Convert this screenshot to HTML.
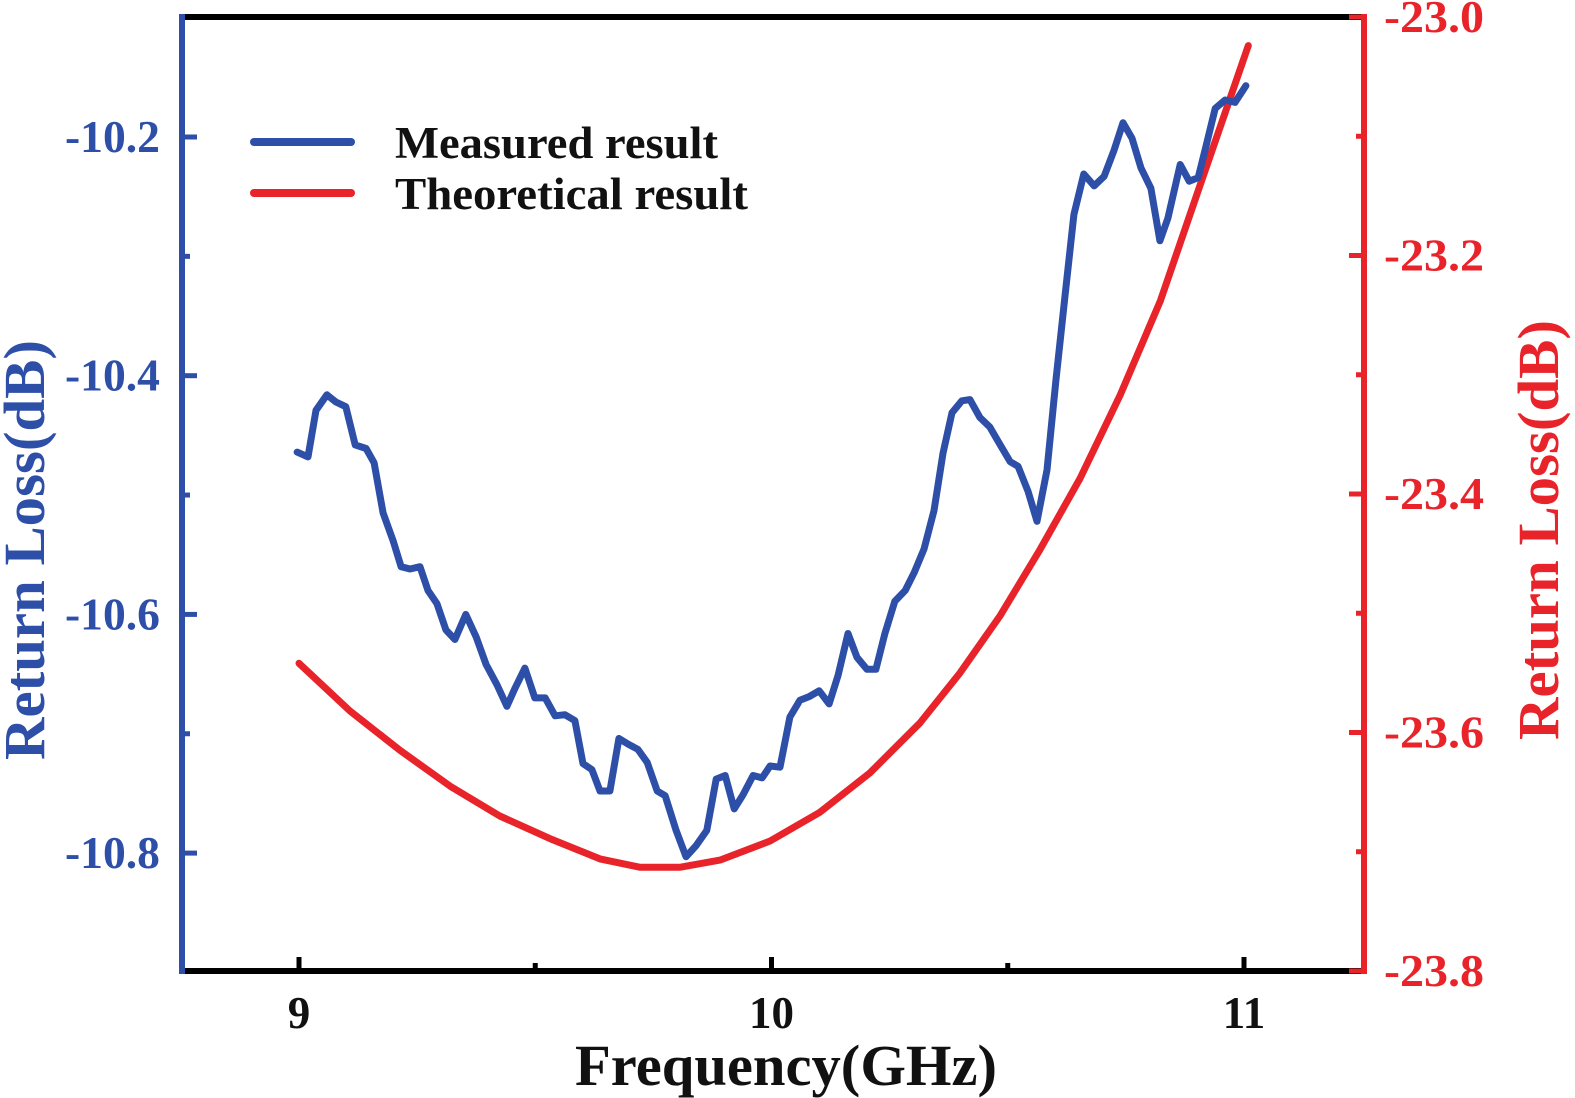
<!DOCTYPE html>
<html><head><meta charset="utf-8"><style>
html,body{margin:0;padding:0;background:#fff;overflow:hidden;width:1575px;height:1098px;}
svg{display:block;}
text{font-family:"Liberation Serif",serif;font-weight:bold;}
</style></head><body>
<svg id="chart" width="1575" height="1098" viewBox="0 0 1575 1098" xmlns="http://www.w3.org/2000/svg"></svg>
<script>
const measuredFreq=[8.996,9.019,9.036,9.059,9.078,9.099,9.119,9.142,9.159,9.178,9.199,9.216,9.235,9.256,9.273,9.292,9.311,9.330,9.353,9.375,9.396,9.419,9.440,9.457,9.478,9.499,9.521,9.542,9.563,9.584,9.601,9.620,9.637,9.658,9.677,9.698,9.717,9.737,9.758,9.775,9.798,9.819,9.840,9.863,9.883,9.902,9.921,9.940,9.961,9.980,9.997,10.018,10.039,10.060,10.079,10.101,10.122,10.141,10.162,10.181,10.202,10.221,10.240,10.261,10.283,10.302,10.323,10.344,10.363,10.382,10.403,10.420,10.441,10.462,10.481,10.505,10.522,10.543,10.562,10.583,10.602,10.621,10.640,10.661,10.683,10.704,10.725,10.744,10.763,10.782,10.803,10.822,10.839,10.865,10.884,10.903,10.920,10.939,10.960,10.981,11.004];
const measuredVal=[-10.464,-10.468,-10.429,-10.416,-10.422,-10.426,-10.458,-10.461,-10.473,-10.515,-10.538,-10.560,-10.562,-10.560,-10.580,-10.591,-10.613,-10.621,-10.600,-10.619,-10.642,-10.659,-10.677,-10.662,-10.645,-10.670,-10.670,-10.685,-10.684,-10.689,-10.725,-10.730,-10.748,-10.748,-10.704,-10.709,-10.713,-10.724,-10.748,-10.752,-10.781,-10.803,-10.794,-10.781,-10.738,-10.735,-10.763,-10.751,-10.735,-10.737,-10.727,-10.728,-10.686,-10.672,-10.669,-10.664,-10.675,-10.651,-10.616,-10.636,-10.646,-10.646,-10.616,-10.589,-10.580,-10.565,-10.545,-10.513,-10.465,-10.431,-10.421,-10.420,-10.435,-10.443,-10.456,-10.472,-10.476,-10.497,-10.522,-10.479,-10.404,-10.334,-10.265,-10.231,-10.241,-10.233,-10.211,-10.188,-10.201,-10.226,-10.243,-10.287,-10.268,-10.223,-10.237,-10.234,-10.207,-10.176,-10.169,-10.171,-10.157];
const theoFreq=[9.000,9.108,9.214,9.320,9.425,9.531,9.637,9.722,9.806,9.891,9.997,10.102,10.208,10.314,10.399,10.484,10.569,10.653,10.738,10.823,10.907,11.009];
const theoVal=[-23.542,-23.582,-23.615,-23.645,-23.670,-23.689,-23.706,-23.713,-23.713,-23.707,-23.691,-23.667,-23.634,-23.592,-23.550,-23.502,-23.446,-23.387,-23.317,-23.238,-23.141,-23.024];
const xTicks=[9,10,11];
const xMinor=[9.5,10.5];
const leftTicks=[-10.2,-10.4,-10.6,-10.8];
const leftMinor=[-10.3,-10.5,-10.7];
const rightTicks=[-23.0,-23.2,-23.4,-23.6,-23.8];
const rightMinor=[-23.1,-23.3,-23.5,-23.7];

const NS="http://www.w3.org/2000/svg";
const svgEl=document.getElementById('chart');
const PL=182,PR=1364,PT=17,PB=971;
const BLUE="#2e4fa8",RED="#e8232a";
const X=f=>299+(f-9)*472.5;
const YL=v=>137+(-10.2-v)/0.2*238.7;
const YR=v=>PT+(-23-v)/0.2*238.5;
function mk(tag,attrs,parent){const e=document.createElementNS(NS,tag);for(const k in attrs)e.setAttribute(k,attrs[k]);(parent||svgEl).appendChild(e);return e;}

const tp=theoFreq.map((f,i)=>X(f).toFixed(1)+','+YR(theoVal[i]).toFixed(1)).join(' ');
const theo=mk('polyline',{points:tp,fill:'none',stroke:RED,'stroke-width':7,'stroke-linejoin':'round','stroke-linecap':'round'});


const mp=measuredFreq.map((f,i)=>X(f).toFixed(1)+','+YL(measuredVal[i]).toFixed(1)).join(' ');
const meas=mk('polyline',{points:mp,fill:'none',stroke:BLUE,'stroke-width':7,'stroke-linejoin':'round','stroke-linecap':'round'});



const topBorder=mk('line',{x1:PL,y1:PT,x2:PR,y2:PT,stroke:'#000','stroke-width':6});


const botAxis=mk('line',{x1:PL,y1:PB,x2:PR,y2:PB,stroke:'#000','stroke-width':6});


const leftAxis=mk('line',{x1:PL,y1:PT-3,x2:PL,y2:PB+3,stroke:BLUE,'stroke-width':6});


const rightAxis=mk('line',{x1:PR,y1:PT-3,x2:PR,y2:PB+3,stroke:RED,'stroke-width':6});



xTicks.forEach(t=>{
  const l=mk('line',{x1:X(t),y1:PB,x2:X(t),y2:PB-14,stroke:'#000','stroke-width':5});
  
  
  const tx=mk('text',{x:X(t),y:1028,'text-anchor':'middle','font-size':45,fill:'#111'});
  tx.textContent=String(t);
  
  
});
xMinor.forEach(t=>{
  const l=mk('line',{x1:X(t),y1:PB,x2:X(t),y2:PB-8,stroke:'#000','stroke-width':5});
  
  
});
leftTicks.forEach(t=>{
  const l=mk('line',{x1:PL,y1:YL(t),x2:PL+15,y2:YL(t),stroke:BLUE,'stroke-width':5});
  
  
  const tx=mk('text',{x:160,y:YL(t)+15,'text-anchor':'end','font-size':45,fill:BLUE,textLength:95,lengthAdjust:'spacingAndGlyphs'});
  tx.textContent=t.toFixed(1);
  
  
});
leftMinor.forEach(t=>{
  const l=mk('line',{x1:PL,y1:YL(t),x2:PL+8,y2:YL(t),stroke:BLUE,'stroke-width':5});
  
  
});
rightTicks.forEach(t=>{
  const l=mk('line',{x1:PR,y1:YR(t),x2:PR-15,y2:YR(t),stroke:RED,'stroke-width':5});
  
  
  const tx=mk('text',{x:1384,y:YR(t)+15,'text-anchor':'start','font-size':45,fill:RED,textLength:100,lengthAdjust:'spacingAndGlyphs'});
  tx.textContent=t.toFixed(1);
  
  
});
rightMinor.forEach(t=>{
  const l=mk('line',{x1:PR,y1:YR(t),x2:PR-8,y2:YR(t),stroke:RED,'stroke-width':5});
  
  
});

const xTitle=mk('text',{x:786,y:1085,'text-anchor':'middle','font-size':58,fill:'#111',textLength:422,lengthAdjust:'spacingAndGlyphs'});
xTitle.textContent='Frequency(GHz)';


const lTitle=mk('text',{x:0,y:0,'text-anchor':'middle','font-size':58,fill:BLUE,textLength:420,lengthAdjust:'spacingAndGlyphs',transform:'translate(44,550) rotate(-90)'});
lTitle.textContent='Return Loss(dB)';


const rTitle=mk('text',{x:0,y:0,'text-anchor':'middle','font-size':58,fill:RED,textLength:420,lengthAdjust:'spacingAndGlyphs',transform:'translate(1558,530) rotate(-90)'});
rTitle.textContent='Return Loss(dB)';



const lg=mk('g',{});


const l1=mk('line',{x1:254,y1:142,x2:351,y2:142,stroke:BLUE,'stroke-width':8,'stroke-linecap':'round'},lg);


const t1=mk('text',{x:395,y:158,'font-size':45,fill:'#111',textLength:323,lengthAdjust:'spacingAndGlyphs'},lg);
t1.textContent='Measured result';


const l2=mk('line',{x1:254,y1:193,x2:351,y2:193,stroke:RED,'stroke-width':8,'stroke-linecap':'round'},lg);


const t2=mk('text',{x:395,y:209,'font-size':45,fill:'#111',textLength:353,lengthAdjust:'spacingAndGlyphs'},lg);
t2.textContent='Theoretical result';


</script>
</body></html>
